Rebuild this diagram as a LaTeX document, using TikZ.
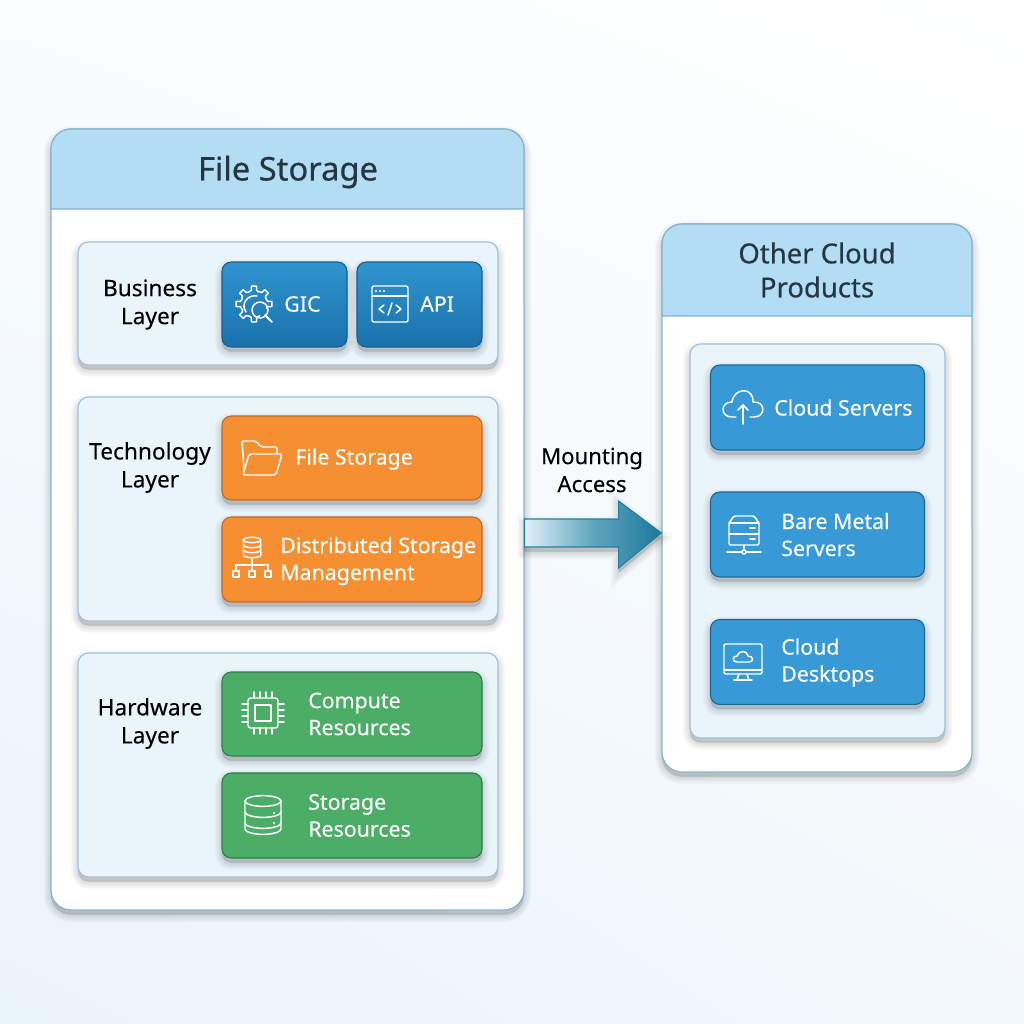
\documentclass[tikz,border=0pt]{standalone}
\usepackage{fontspec}
\setmainfont{Noto Sans}
\newfontfamily\titlefont[FakeBold=0.4]{Noto Sans}
\newfontfamily\mediumfont[FakeBold=0.12]{Noto Sans}
\usetikzlibrary{shadings,calc}
\definecolor{headblue}{HTML}{B3DCF5}
\definecolor{panelline}{HTML}{86B4CC}
\definecolor{layerfill}{HTML}{E9F4FB}
\definecolor{layerline}{HTML}{9CC4DA}
\definecolor{titleink}{HTML}{263640}
\definecolor{bgul}{HTML}{FAFCFE}
\definecolor{bgll}{HTML}{EAF4FB}
\definecolor{bglr}{HTML}{F3F8FC}
\definecolor{gictop}{HTML}{3094D0}
\definecolor{gicbot}{HTML}{1A72AC}
\definecolor{gicline}{HTML}{14608F}
\definecolor{cloudfill}{HTML}{379AD6}
\definecolor{cloudline}{HTML}{1A6898}
\definecolor{orfill}{HTML}{F58F32}
\definecolor{orline}{HTML}{C4682A}
\definecolor{grfill}{HTML}{4CAD66}
\definecolor{grline}{HTML}{2E7D4B}
\definecolor{arrowline}{HTML}{267D9E}
\definecolor{arrowl}{HTML}{E2F0F7}
\definecolor{arrowm}{HTML}{5FA5BE}
\definecolor{arrowr}{HTML}{1C789B}
\begin{document}
\begin{tikzpicture}[x=0.75pt, y=-0.75pt,
    shadowstep/.style={preaction={draw=black, fill=black, draw opacity=0.022, fill opacity=0.022, line width=#1, transform canvas={yshift=-3.5pt}}},
    softshadow/.style={shadowstep=11pt, shadowstep=9pt, shadowstep=7pt, shadowstep=5pt, shadowstep=3pt, shadowstep=1pt},
    % Containers
    panel/.style={draw=panelline, fill=white, rounded corners=15pt, line width=0.9pt, softshadow},
    panelhead/.style={draw=panelline, fill=headblue, line width=0.9pt},
    layer/.style={draw=layerline, fill=layerfill, rounded corners=8pt, line width=0.9pt, softshadow},
    % Boxes
    tile/.style={rounded corners=7pt, line width=0.8pt, softshadow},
    darkblue/.style={tile, draw=gicline, top color=gictop, bottom color=gicbot},
    cloudblue/.style={tile, draw=cloudline, fill=cloudfill},
    orangebox/.style={tile, draw=orline, fill=orfill},
    greenbox/.style={tile, draw=grline, fill=grfill},
    % Text
    tiletxt/.style={text=white, font=\mediumfont\fontsize{16}{20.25}\selectfont, align=left, anchor=west, inner sep=0pt},
    layertxt/.style={text=black, font=\mediumfont\fontsize{17}{21}\selectfont, align=center, inner sep=0pt},
    headtxt/.style={text=titleink, align=center, inner sep=0pt},
    icon/.style={draw=white, line width=1.1pt, line cap=round, line join=round},
    % Icons
    pics/gearicon/.style={code={
      \foreach \a in {0,90,135,180,225,270,315}
        \draw[icon] (\a-26:13) -- (\a-11:14) -- (\a-8:18) -- (\a+8:18) -- (\a+11:14) -- (\a+19:13);
      \draw[icon] (-8,8) .. controls (-14,0) and (-6,-10) .. (3,-8);
      \draw[icon] (6,6) circle[radius=6pt];
      \draw[icon, line width=1.5pt] (11,11) -- (18,18);
    }},
    pics/windowicon/.style={code={
      \draw[icon, rounded corners=1.5pt] (-18,-18) rectangle (18,18);
      \draw[icon] (-18,-8) -- (18,-8);
      \foreach \x in {-14,-10,-6} \fill[white] (\x,-13) circle[radius=0.8pt];
      \draw[icon] (-6,1) -- (-11,5) -- (-6,9);
      \draw[icon] (6,1) -- (11,5) -- (6,9);
      \draw[icon] (2,-1) -- (-2,11);
    }},
    pics/foldericon/.style={code={
      \draw[icon, rounded corners=1.5pt] (-18,11) -- (-20,-17) -- (-6,-17) -- (-1,-11) -- (15,-11) -- (15,-4);
      \draw[icon, rounded corners=1.5pt] (-13,-4) -- (20,-4) -- (14,17) -- (-19,17) -- cycle;
    }},
    pics/treeicon/.style={code={
      \draw[icon] (0,-19) ellipse[x radius=6.5pt, y radius=2pt];
      \draw[icon] (-8.5,-19) -- (-8.5,-4) arc[start angle=180, end angle=360, x radius=6.5pt, y radius=2pt] -- (8.5,-19);
      \draw[icon] (-8.5,-14) arc[start angle=180, end angle=360, x radius=6.5pt, y radius=2pt];
      \draw[icon] (-8.5,-9) arc[start angle=180, end angle=360, x radius=6.5pt, y radius=2pt];
      \draw[icon] (0,-1) -- (0,6);
      \draw[icon] (-16,6) -- (16,6);
      \foreach \x in {-16,0,16} {
        \draw[icon] (\x,6) -- (\x,12);
        \draw[icon] (\x-3,12) rectangle (\x+3,18);
      }
    }},
    pics/chipicon/.style={code={
      \draw[icon, rounded corners=2pt] (-15,-15) rectangle (15,15);
      \draw[icon] (-8,-8) rectangle (8,8);
      \foreach \p in {-9,-3,3,9} {
        \draw[icon] (\p,-15) -- (\p,-21);
        \draw[icon] (\p,15) -- (\p,21);
        \draw[icon] (-15,\p) -- (-21,\p);
        \draw[icon] (15,\p) -- (21,\p);
      }
    }},
    pics/dbicon/.style={code={
      \draw[icon] (0,-14) ellipse[x radius=13.5pt, y radius=4pt];
      \draw[icon] (-18,-14) -- (-18,14) arc[start angle=180, end angle=360, x radius=13.5pt, y radius=4pt] -- (18,-14);
      \draw[icon] (-18,-3) arc[start angle=180, end angle=360, x radius=13.5pt, y radius=4pt];
      \draw[icon] (-18,8) arc[start angle=180, end angle=360, x radius=13.5pt, y radius=4pt];
      \foreach \y in {-2,8,18} \fill[white] (11,\y) circle[radius=0.8pt];
    }},
    pics/cloudupicon/.style={code={
      \draw[icon] (-7,10) -- (-11,10) .. controls (-23,10) and (-23,-5) .. (-11,-5) .. controls (-9,-20) and (11,-20) .. (10,-5) .. controls (23,-6) and (23,10) .. (11,10) -- (7,10);
      \draw[icon] (0,17) -- (0,-2);
      \draw[icon] (-5,3) -- (0,-2) -- (5,3);
    }},
    pics/servericon/.style={code={
      \draw[icon, rounded corners=1pt] (-15,-11) -- (-10,-18) -- (10,-18) -- (15,-11) -- (15,11) -- (-15,11) -- cycle;
      \draw[icon] (-15,-11) -- (15,-11);
      \draw[icon] (-15,0) -- (15,0);
      \draw[icon] (6,-6) -- (11,-6);
      \draw[icon] (6,5) -- (11,5);
      \draw[icon] (0,11) -- (0,16);
      \draw[icon] (0,18) circle[radius=1.5pt];
      \draw[icon] (-17,18) -- (-2,18);
      \draw[icon] (2,18) -- (17,18);
    }},
    pics/desktopicon/.style={code={
      \draw[icon, rounded corners=1.5pt] (-19,-15) rectangle (19,15);
      \draw[icon] (-19,11) -- (19,11);
      \draw[icon] (-4,15) -- (-6,21);
      \draw[icon] (4,15) -- (6,21);
      \draw[icon] (-9,21) -- (9,21);
      \draw[icon] (-5,3) -- (-6,3) .. controls (-11,3) and (-11,-3) .. (-6,-3) .. controls (-4,-9) and (4,-9) .. (5,-3) .. controls (11,-3) and (11,3) .. (6,3) -- cycle;
    }},
  ]

  % Background
  \useasboundingbox (0,0) rectangle (1024,1024);
  \shade[upper left=bgul, upper right=white, lower left=bgll, lower right=bglr]
    (0,0) rectangle (1024,1024);

  % File Storage panel
  \node[panel, minimum width=354.75pt, minimum height=585.75pt] (filepanel) at (287.5,519.5) {};
  \draw[panelhead] (51,209) [rounded corners=15pt] -- (51,129) -- (524,129) [sharp corners] -- (524,209) -- cycle;
  \node[headtxt, font=\titlefont\fontsize{24.5}{28}\selectfont] (filetitle) at (288,172) {File Storage};

  % Other Cloud Products panel
  \node[panel, minimum width=232.5pt, minimum height=411pt] (otherpanel) at (817,498) {};
  \draw[panelhead] (662,316) [rounded corners=15pt] -- (662,224) -- (972,224) [sharp corners] -- (972,316) -- cycle;
  \node[headtxt, font=\titlefont\fontsize{20.6}{25.5}\selectfont] (othertitle) at (817,270) {Other Cloud\\Products};

  % Layers
  \node[layer, minimum width=315pt, minimum height=92.25pt] (business) at (288,303.5) {};
  \node[layer, minimum width=315pt, minimum height=168pt] (technology) at (288,509) {};
  \node[layer, minimum width=315pt, minimum height=168pt] (hardware) at (288,765) {};
  \node[layer, minimum width=191.25pt, minimum height=295.5pt] (productlayer) at (817.5,541) {};
  \node[layertxt] (businesstxt) at (150,304.5) {Business\\Layer};
  \node[layertxt] (technologytxt) at (150,467.5) {Technology\\Layer};
  \node[layertxt] (hardwaretxt) at (150,723.5) {Hardware\\Layer};

  % Business boxes
  \node[darkblue, minimum width=93.75pt, minimum height=63.75pt] (gic) at (284.5,304.5) {};
  \node[darkblue, minimum width=93.75pt, minimum height=63.75pt] (api) at (419.5,304.5) {};
  \pic at (254,304) {gearicon};
  \pic at (390,304) {windowicon};
  \node[tiletxt] (gictxt) at (284,304) {GIC};
  \node[tiletxt] (apitxt) at (420,304) {API};

  % Technology boxes
  \node[orangebox, minimum width=195pt, minimum height=63pt] (fstore) at (352,458) {};
  \node[orangebox, minimum width=195pt, minimum height=63.75pt] (dsm) at (352,559.5) {};
  \pic at (262,458) {foldericon};
  \pic at (252,559) {treeicon};
  \node[tiletxt] (fstoretxt) at (295,459) {File Storage};
  \node[tiletxt] (dsmtxt) at (280,561) {Distributed Storage\\Management};

  % Hardware boxes
  \node[greenbox, minimum width=195pt, minimum height=63pt] (compute) at (352,714) {};
  \node[greenbox, minimum width=195pt, minimum height=63.75pt] (storage) at (352,815.5) {};
  \pic at (263,713) {chipicon};
  \pic at (263,815) {dbicon};
  \node[tiletxt] (computetxt) at (308,714) {Compute\\Resources};
  \node[tiletxt] (storagetxt) at (308,815.5) {Storage\\Resources};

  % Product boxes
  \node[cloudblue, minimum width=160.5pt, minimum height=63.75pt] (servers) at (817.5,407.5) {};
  \node[cloudblue, minimum width=160.5pt, minimum height=63.75pt] (baremetal) at (817.5,534.5) {};
  \node[cloudblue, minimum width=160.5pt, minimum height=63.75pt] (desktops) at (817.5,662) {};
  \pic at (743,407) {cloudupicon};
  \pic at (744,534) {servericon};
  \pic at (743,659) {desktopicon};
  \node[tiletxt] (serverstxt) at (774,407.5) {Cloud Servers};
  \node[tiletxt] (baremetaltxt) at (781,534.5) {Bare Metal\\Servers};
  \node[tiletxt] (desktopstxt) at (781,662.5) {Cloud\\Desktops};

  % Arrow
  \coordinate (arrowtail) at (filepanel.east |- 0,533);
  \coordinate (arrowtip) at (otherpanel.west |- 0,533);
  \shade[draw=arrowline, line width=0.8pt, left color=arrowl, right color=arrowr, middle color=arrowm, softshadow]
    (arrowtail) ++(0,-14) -- ++(94,0) -- ++(0,-18) -- (arrowtip) -- ($(arrowtail)+(94,35)$) -- ++(0,-21) -- ++(-94,0) -- cycle;
  \node[layertxt, font=\mediumfont\fontsize{16.6}{21}\selectfont] (mounttxt) at (592,470) {Mounting\\Access};

\end{tikzpicture}
\end{document}
